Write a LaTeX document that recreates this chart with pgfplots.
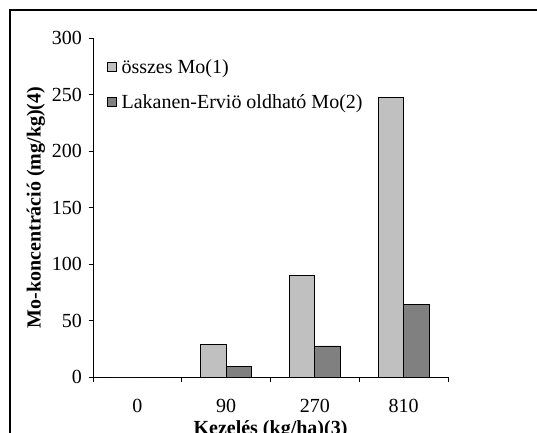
\documentclass[border=0pt]{standalone}
\usepackage{fontspec}
\setmainfont{Liberation Serif}
\usepackage{pgfplots}
\pgfplotsset{compat=1.18}
\definecolor{barlight}{HTML}{C0C0C0}
\definecolor{bardark}{HTML}{808080}
\newcommand{\chartfont}{\fontsize{20}{24}\selectfont}
\begin{document}
\begin{tikzpicture}
\useasboundingbox (0pt,0pt) rectangle (537pt,432pt);
\draw[line width=1.5pt] (10pt,-20pt) |- (560pt,422pt);
\begin{axis}[
  at={(93pt,55pt)}, anchor=south west,
  scale only axis,
  width=355pt, height=339pt,
  xmin=-0.5, xmax=3.5,
  ymin=0, ymax=300,
  axis x line=bottom, axis y line=left,
  axis line style={-, line width=0.8pt},
  tick align=outside,
  major tick length=4.5pt,
  tick style={line width=0.8pt, black},
  xtick={-0.5,0.5,1.5,2.5,3.5},
  xticklabels={,,,,},
  extra x ticks={0,1,2,3},
  extra x tick labels={0,90,270,810},
  extra x tick style={major tick length=0pt, tick label style={yshift=-19pt}},
  ytick={0,50,...,300},
  yticklabel style={xshift=-3pt},
  /pgf/number format/assume math mode=true,
  tick label style={font=\chartfont},
  ylabel={Mo-koncentráció (mg/kg)(4)},
  xlabel={Kezelés (kg/ha)(3)},
  label style={font=\chartfont\bfseries},
  xlabel style={yshift=4pt},
  ybar=0pt,
  bar width=25.5pt,
  legend style={draw=none, fill=none, font=\chartfont,
    at={(0.03,0.95)}, anchor=north west,
    row sep=16pt},
  legend cell align=left,
  legend image code/.code={\draw[#1, draw=black, line width=0.6pt] (0pt,-4.5pt) rectangle (9pt,4.5pt); \path (12pt,0pt);},
]
\addplot[fill=barlight, draw=black, line width=0.8pt]
  coordinates {(0,0) (1,28.5) (2,90) (3,247.5)};
\addlegendentry{összes Mo(1)}
\addplot[fill=bardark, draw=black, line width=0.8pt]
  coordinates {(0,0) (1,9.5) (2,27.5) (3,64)};
\addlegendentry{Lakanen-Erviö oldható Mo(2)}
\end{axis}
\end{tikzpicture}
\end{document}
